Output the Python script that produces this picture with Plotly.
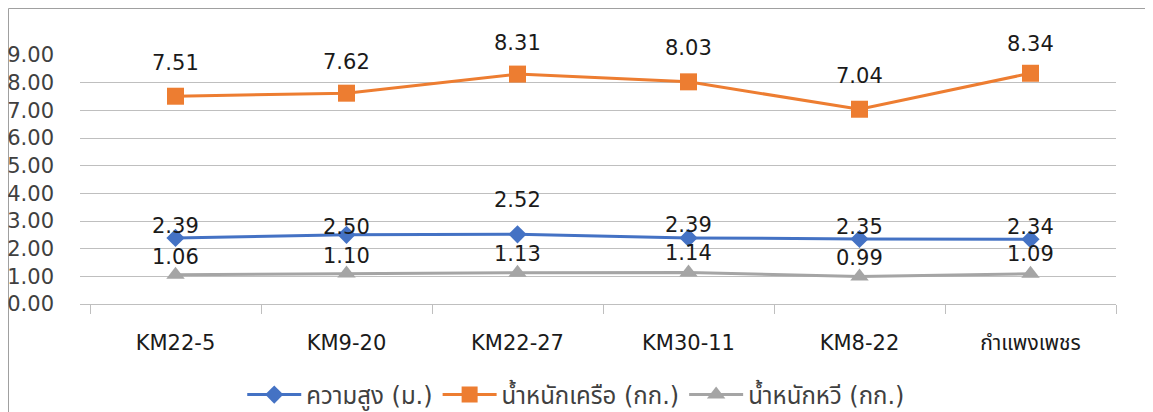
import plotly.graph_objects as go

categories = ["KM22-5", "KM9-20", "KM22-27", "KM30-11", "KM8-22", "กำแพงเพชร"]
height_m = [2.39, 2.50, 2.52, 2.39, 2.35, 2.34]
bunch_kg = [7.51, 7.62, 8.31, 8.03, 7.04, 8.34]
hand_kg = [1.06, 1.10, 1.13, 1.14, 0.99, 1.09]
series_names = ["ความสูง (ม.)", "น้ำหนักเครือ (กก.)", "น้ำหนักหวี (กก.)"]

# label offsets (pixels above marker), styling only
shift_height = [12, 8, 34, 13, 12, 12]
shift_bunch = [33, 31, 31, 34, 33, 29]
shift_hand = [18, 18, 19, 19, 19, 20]

FONT = "DejaVu Sans, Noto Sans Thai, Tahoma, sans-serif"
colors = ["#4472C4", "#ED7D31", "#A5A5A5"]
symbols = ["diamond", "square", "triangle-up"]
msizes = [14, 17, 16]

W, H = 1145, 404
L, R, T, B = 72, 37, 47, 108
PH = H - T - B

fig = go.Figure()
for name, vals, c, s, ms in zip(series_names, [height_m, bunch_kg, hand_kg], colors, symbols, msizes):
    fig.add_trace(go.Scatter(
        x=categories, y=vals, name=name, mode="lines+markers",
        line=dict(color=c, width=3),
        marker=dict(symbol=s, size=ms, color=c),
        cliponaxis=False,
    ))

annotations = []
for vals, shifts in [(height_m, shift_height), (bunch_kg, shift_bunch), (hand_kg, shift_hand)]:
    for cat, v, sh in zip(categories, vals, shifts):
        annotations.append(dict(
            x=cat, y=v, xref="x", yref="y", text=f"{v:.2f}", showarrow=False,
            yshift=sh, yanchor="middle", font=dict(family=FONT, size=21, color="#1a1a1a"),
        ))

fig.update_layout(
    width=W, height=H,
    margin=dict(l=L, r=R, t=T, b=B, autoexpand=False),
    paper_bgcolor="white", plot_bgcolor="white",
    font=dict(family=FONT, size=21, color="#1a1a1a"),
    showlegend=True,
    legend=dict(orientation="h", x=0.479, xanchor="center", y=(PH - (387 - T)) / PH, yanchor="middle",
                font=dict(family=FONT, size=24, color="#404040"),
                itemwidth=54, traceorder="normal", tracegroupgap=0),
    annotations=annotations,
    shapes=[dict(type="rect", xref="paper", yref="paper",
                 x0=(0.5 - L) / (W - L - R), x1=1.2, y0=-2, y1=(PH + T - 0.5) / PH,
                 line=dict(color="#A0A0A0", width=1), fillcolor="rgba(0,0,0,0)", layer="below")],
)

fig.update_xaxes(
    type="category", range=[-0.5585, 5.5],
    showgrid=False, showline=False, zeroline=False,
    ticks="outside", tickson="boundaries", ticklen=9, tickcolor="#BFBFBF", tickwidth=1,
    tickfont=dict(family=FONT, size=21, color="#1a1a1a"),
    ticklabelstandoff=24,
)
fig.update_yaxes(
    range=[0, 9], dtick=1, tickformat=".2f",
    showgrid=True, gridcolor="#BFBFBF", gridwidth=1,
    zeroline=True, zerolinecolor="#BFBFBF", zerolinewidth=1,
    showline=False, ticks="",
    tickfont=dict(family=FONT, size=21, color="#404040"),
    ticklabelstandoff=25,
)

fig.write_html("out.html")
